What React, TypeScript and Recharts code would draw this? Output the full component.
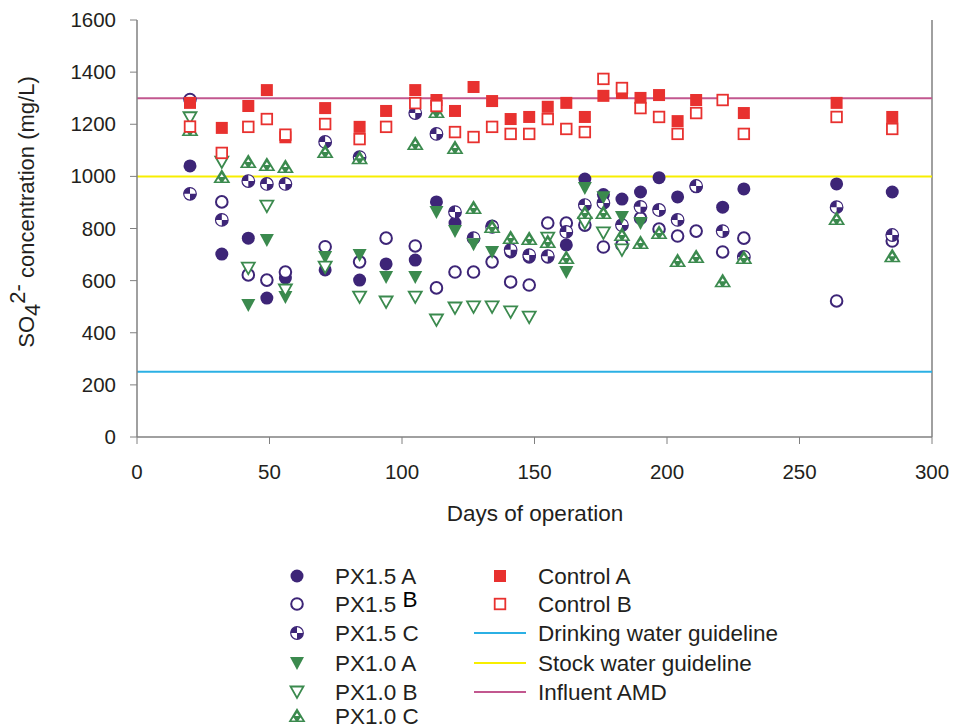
import React from "react";
import {
  ScatterChart,
  Scatter,
  XAxis,
  YAxis,
  ReferenceLine,
} from "recharts";

const days = [20, 32, 42, 49, 56, 71, 84, 94, 105, 113, 120, 127, 134, 141, 148, 155, 162, 169, 176, 183, 190, 197, 204, 211, 221, 229, 264, 285];

const px15A = [1040, 702, 763, 533, 610, 641, 602, 664, 679, 902, 821, null, 810, 710, 690, 690, 737, 990, 930, 913, 940, 995, 921, 960, 882, 952, 971, 940];
const px15B = [1295, 902, 622, 602, 633, 730, 672, 763, 733, 572, 633, 633, 672, 595, 583, 821, 821, 813, 729, 737, 840, 798, 771, 790, 710, 763, 522, 752];
const px15C = [933, 833, 982, 971, 971, 1132, 1074, null, 1243, 1163, 863, 763, 806, 718, 698, 694, 787, 890, 898, 813, 883, 871, 833, 963, 790, 691, 882, 775];
const px10A = [null, null, 506, 756, 537, 691, 698, 614, 614, 863, 790, 740, 710, null, null, null, 633, 955, 920, 844, 821, null, null, null, null, null, null, null];
const px10B = [1225, 1055, 648, 886, 564, 652, 537, 518, 537, 449, 495, 499, 499, 480, 460, 763, null, 821, 783, 718, null, null, null, null, null, null, null, null];
const px10C = [1178, 998, 1055, 1044, 1036, 1094, 1070, null, 1124, 1247, 1109, 879, 806, 764, 760, 748, 687, 859, 859, 775, 744, 783, 675, 691, 598, 687, 836, 694];
const controlA = [1282, 1186, 1270, 1331, 1150, 1262, 1190, 1251, 1331, 1293, 1251, 1343, 1289, 1220, 1228, 1267, 1282, 1228, 1309, 1320, 1301, 1312, 1212, 1293, null, 1243, 1282, 1228];
const controlB = [1191, 1090, 1190, 1220, 1160, 1201, 1143, 1190, 1281, 1270, 1170, 1151, 1190, 1163, 1163, 1220, 1182, 1170, 1374, 1339, 1262, 1228, 1163, 1243, 1293, 1163, 1228, 1182];

const drinkingWater = 250;
const stockWater = 1000;
const influentAMD = 1300;

const xTicks = [0, 50, 100, 150, 200, 250, 300];
const yTicks = [0, 200, 400, 600, 800, 1000, 1200, 1400, 1600];

const PURPLE = "#3d2577";
const GREEN = "#3b8a4e";
const RED = "#e8312f";
const TEXT = "#231f20";
const FONT = "'Liberation Sans', Arial, sans-serif";

const toPoints = (vals: (number | null)[]) =>
  days
    .map((day, i) => ({ day, v: vals[i] }))
    .filter((p) => p.v !== null);

// marker glyphs
const FilledCircle = ({ cx, cy }: any) => <circle cx={cx} cy={cy} r={6.5} fill={PURPLE} />;
const OpenCircle = ({ cx, cy }: any) => (
  <circle cx={cx} cy={cy} r={5.8} fill="#fff" stroke={PURPLE} strokeWidth={2} />
);
const QuadCircle = ({ cx, cy }: any) => {
  const r = 6.3;
  return (
    <g>
      <circle cx={cx} cy={cy} r={r} fill="#fff" stroke={PURPLE} strokeWidth={1.2} />
      <path d={`M${cx},${cy} L${cx - r},${cy} A${r},${r} 0 0 1 ${cx},${cy - r} Z`} fill={PURPLE} />
      <path d={`M${cx},${cy} L${cx + r},${cy} A${r},${r} 0 0 1 ${cx},${cy + r} Z`} fill={PURPLE} />
    </g>
  );
};
const FilledDown = ({ cx, cy }: any) => (
  <path d={`M${cx - 7},${cy - 6} L${cx + 7},${cy - 6} L${cx},${cy + 7} Z`} fill={GREEN} />
);
const OpenDown = ({ cx, cy }: any) => (
  <path
    d={`M${cx - 6.5},${cy - 5.5} L${cx + 6.5},${cy - 5.5} L${cx},${cy + 6} Z`}
    fill="#fff"
    stroke={GREEN}
    strokeWidth={1.8}
  />
);
const TriC = ({ cx, cy }: any) => (
  <g>
    <path d={`M${cx},${cy - 8} L${cx - 8.5},${cy + 6} L${cx + 8.5},${cy + 6} Z`} fill={GREEN} />
    <path d={`M${cx},${cy - 3} L${cx - 2},${cy} L${cx + 2},${cy} Z`} fill="#fff" />
    <path d={`M${cx - 3.5},${cy + 1.5} L${cx - 5.5},${cy + 4.5} L${cx - 1.5},${cy + 4.5} Z`} fill="#fff" />
    <path d={`M${cx + 3.5},${cy + 1.5} L${cx + 1.5},${cy + 4.5} L${cx + 5.5},${cy + 4.5} Z`} fill="#fff" />
  </g>
);
const FilledSquare = ({ cx, cy }: any) => (
  <rect x={cx - 6} y={cy - 6} width={12} height={12} fill={RED} />
);
const OpenSquare = ({ cx, cy }: any) => (
  <rect x={cx - 5.3} y={cy - 5.3} width={10.6} height={10.6} fill="#fff" stroke={RED} strokeWidth={1.8} />
);

const series = [
  { name: "PX1.5 A", vals: px15A, Shape: FilledCircle },
  { name: "PX1.5 B", vals: px15B, Shape: OpenCircle },
  { name: "PX1.5 C", vals: px15C, Shape: QuadCircle },
  { name: "PX1.0 A", vals: px10A, Shape: FilledDown },
  { name: "PX1.0 B", vals: px10B, Shape: OpenDown },
  { name: "PX1.0 C", vals: px10C, Shape: TriC },
  { name: "Control A", vals: controlA, Shape: FilledSquare },
  { name: "Control B", vals: controlB, Shape: OpenSquare },
];

const lines = [
  { name: "Drinking water guideline", y: drinkingWater, color: "#2bb0e4" },
  { name: "Stock water guideline", y: stockWater, color: "#f7ee00" },
  { name: "Influent AMD", y: influentAMD, color: "#c2578f" },
];

const XTick = ({ x, y, payload }: any) => (
  <text x={x} y={y + 33} textAnchor="middle" fontSize={20.5} fill={TEXT} fontFamily={FONT}>
    {payload.value}
  </text>
);
const YTick = ({ x, y, payload }: any) => (
  <text x={x - 12} y={y + 7} textAnchor="end" fontSize={20.5} fill={TEXT} fontFamily={FONT}>
    {payload.value}
  </text>
);

const rows = [576, 604, 633, 663, 692, 716];
const LEG_FS = 22.5;

const LegendBox = () => (
  <svg width={954} height={170} style={{ position: "absolute", left: 0, top: 560 }}>
    {series.slice(0, 6).map((s, i) => {
      const y = rows[i] - 560;
      const Shape = s.Shape;
      return (
        <g key={s.name}>
          <Shape cx={297} cy={y} />
          <text x={335} y={y + 8} fontSize={LEG_FS} fill={TEXT} fontFamily={FONT}>
            {s.name === "PX1.5 B" ? (
              <>
                PX1.5{" "}
                <tspan dy={-5} fill="#000">
                  B
                </tspan>
              </>
            ) : (
              s.name
            )}
          </text>
        </g>
      );
    })}
    {series.slice(6).map((s, i) => {
      const y = rows[i] - 560;
      const Shape = s.Shape;
      return (
        <g key={s.name}>
          <Shape cx={500} cy={y} />
          <text x={538} y={y + 8} fontSize={LEG_FS} fill={TEXT} fontFamily={FONT}>
            {s.name}
          </text>
        </g>
      );
    })}
    {lines.map((l, i) => {
      const y = rows[i + 2] - 560;
      return (
        <g key={l.name}>
          <line x1={474} x2={526} y1={y} y2={y} stroke={l.color} strokeWidth={2} />
          <text x={538} y={y + 8} fontSize={LEG_FS} fill={TEXT} fontFamily={FONT}>
            {l.name}
          </text>
        </g>
      );
    })}
  </svg>
);

export default function App() {
  return (
    <div style={{ width: 954, height: 726, background: "#fff", position: "relative", overflow: "hidden" }}>
      <style>{`body{margin:0}`}</style>
      <ScatterChart
        width={954}
        height={560}
        margin={{ top: 20, right: 22, bottom: 93, left: 0 }}
      >
        <XAxis
          dataKey="day"
          type="number"
          domain={[0, 300]}
          ticks={xTicks}
          tick={<XTick />}
          tickSize={7}
          axisLine={{ stroke: "#808080", strokeWidth: 1.5 }}
          tickLine={{ stroke: "#808080" }}
          height={30}
          allowDuplicatedCategory={false}
        />
        <YAxis
          dataKey="v"
          type="number"
          domain={[0, 1600]}
          ticks={yTicks}
          tick={<YTick />}
          tickSize={7}
          width={137}
          axisLine={{ stroke: "#808080", strokeWidth: 1.5 }}
          tickLine={{ stroke: "#808080" }}
        />
        <ReferenceLine x={300} stroke="#808080" strokeWidth={1.5} />
        {lines.map((l) => (
          <ReferenceLine key={l.name} y={l.y} stroke={l.color} strokeWidth={2} />
        ))}
        {series.map((s) => (
          <Scatter
            key={s.name}
            name={s.name}
            data={toPoints(s.vals)}
            shape={s.Shape}
            isAnimationActive={false}
          />
        ))}
        <text
          transform="translate(34,212) rotate(-90)"
          textAnchor="middle"
          fontSize={22}
          fill={TEXT}
          fontFamily={FONT}
        >
          SO
          <tspan dy={6}>4</tspan>
          <tspan dy={-15}>2-</tspan>
          <tspan dy={9}> concentration (mg/L)</tspan>
        </text>
        <text x={535} y={521} textAnchor="middle" fontSize={22.5} fill={TEXT} fontFamily={FONT}>
          Days of operation
        </text>
      </ScatterChart>
      <LegendBox />
    </div>
  );
}
